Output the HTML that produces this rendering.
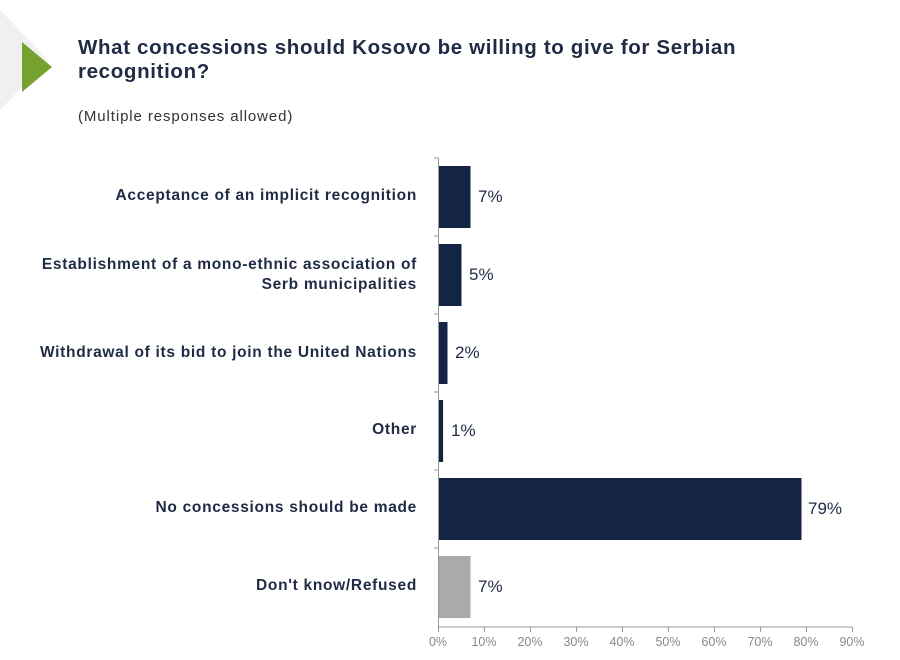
<!DOCTYPE html>
<html><head><style>
body{margin:0;width:900px;height:660px;background:#fff;overflow:hidden;font-family:"Liberation Sans",sans-serif;position:relative}
.t{position:absolute;left:78px;top:36px;font-size:20.5px;font-weight:bold;color:#1f2a44;line-height:24px;letter-spacing:0.65px;white-space:nowrap}
.s{position:absolute;left:78px;top:108px;font-size:15px;color:#333;letter-spacing:0.9px}
.l{position:absolute;right:483px;font-size:15.5px;font-weight:bold;color:#1f2a44;text-align:right;line-height:20px;letter-spacing:0.7px;white-space:nowrap}
.v{position:absolute;font-size:17px;color:#1f2a44}
.x{position:absolute;top:635px;font-size:12.5px;color:#888;width:40px;text-align:center}
</style></head><body>
<svg width="900" height="660" style="position:absolute;left:0;top:0">
<polygon points="0,10 0,110 48,60" fill="#f0f0f0"/>
<polygon points="22,42 22,92 52,67" fill="#76a12f"/>
<g fill="#142445">
<rect x="438.5" y="166" width="32" height="62"/>
<rect x="438.5" y="244" width="23" height="62"/>
<rect x="438.5" y="322" width="9" height="62"/>
<rect x="438.5" y="400" width="4.6" height="62"/>
<rect x="438.5" y="478" width="363" height="62"/>
</g>
<rect x="438.5" y="556" width="32" height="62" fill="#aaa"/>
<g stroke="#999" stroke-width="1">
<line x1="438.5" y1="158" x2="438.5" y2="627"/>
<line x1="438.5" y1="627" x2="852" y2="627"/>
<line x1="434" y1="158" x2="438.5" y2="158"/>
<line x1="434" y1="236" x2="438.5" y2="236"/>
<line x1="434" y1="314" x2="438.5" y2="314"/>
<line x1="434" y1="392" x2="438.5" y2="392"/>
<line x1="434" y1="470" x2="438.5" y2="470"/>
<line x1="434" y1="548" x2="438.5" y2="548"/>
<line x1="438.5" y1="627" x2="438.5" y2="632"/><line x1="484.5" y1="627" x2="484.5" y2="632"/><line x1="530.5" y1="627" x2="530.5" y2="632"/><line x1="576.5" y1="627" x2="576.5" y2="632"/><line x1="622.5" y1="627" x2="622.5" y2="632"/><line x1="668.5" y1="627" x2="668.5" y2="632"/><line x1="714.5" y1="627" x2="714.5" y2="632"/><line x1="760.5" y1="627" x2="760.5" y2="632"/><line x1="806.5" y1="627" x2="806.5" y2="632"/><line x1="852.5" y1="627" x2="852.5" y2="632"/>
</g>
</svg>
<div class="t">What concessions should Kosovo be willing to give for Serbian<br>recognition?</div>
<div class="s">(Multiple responses allowed)</div>
<div class="l" style="top:186px">Acceptance of an implicit recognition</div>
<div class="l" style="top:255px">Establishment of a mono-ethnic association of<br>Serb municipalities</div>
<div class="l" style="top:343px">Withdrawal of its bid to join the United Nations</div>
<div class="l" style="top:420px">Other</div>
<div class="l" style="top:498px">No concessions should be made</div>
<div class="l" style="top:576px">Don't know/Refused</div>
<div class="v" style="left:478px;top:187px">7%</div>
<div class="v" style="left:469px;top:265px">5%</div>
<div class="v" style="left:455px;top:343px">2%</div>
<div class="v" style="left:451px;top:421px">1%</div>
<div class="v" style="left:808px;top:499px">79%</div>
<div class="v" style="left:478px;top:577px">7%</div>
<div class="x" style="left:418px">0%</div><div class="x" style="left:464px">10%</div><div class="x" style="left:510px">20%</div><div class="x" style="left:556px">30%</div><div class="x" style="left:602px">40%</div><div class="x" style="left:648px">50%</div><div class="x" style="left:694px">60%</div><div class="x" style="left:740px">70%</div><div class="x" style="left:786px">80%</div><div class="x" style="left:832px">90%</div>
</body></html>
